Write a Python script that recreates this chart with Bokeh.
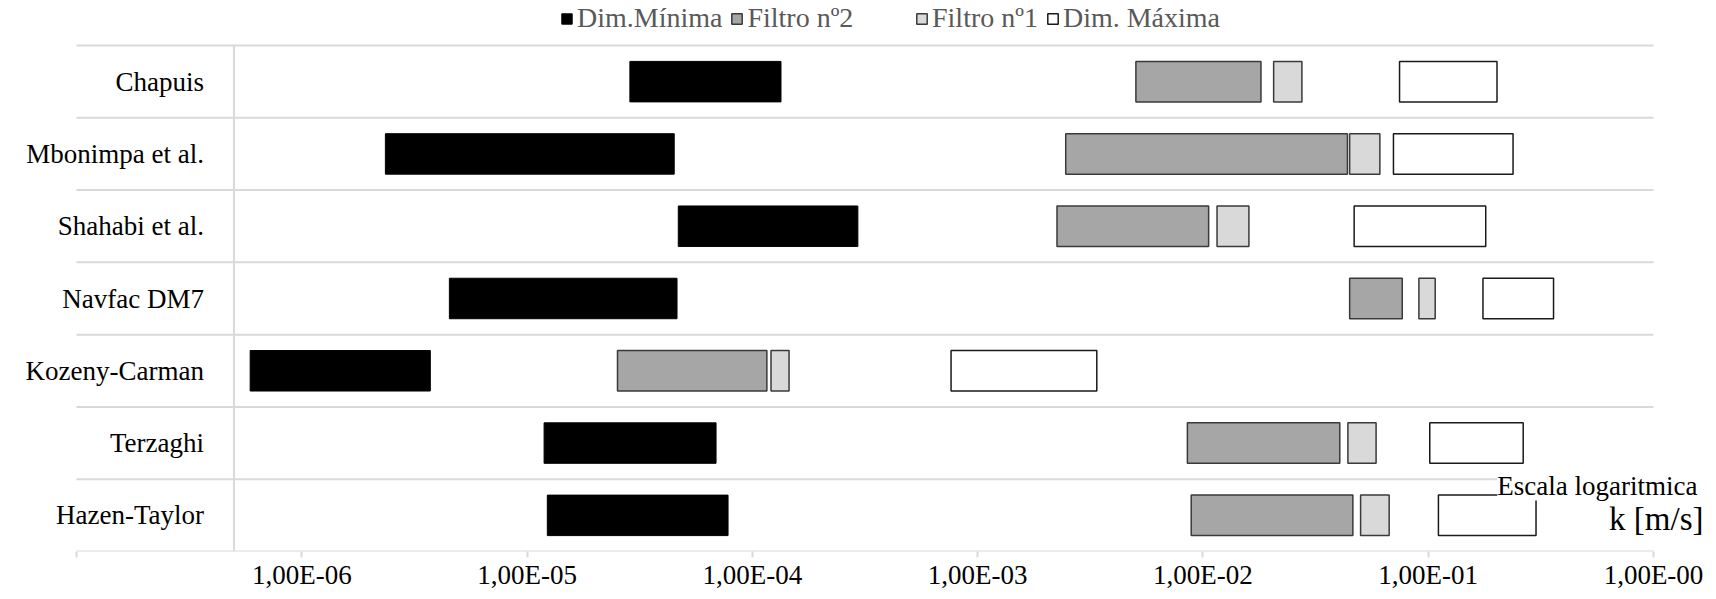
from bokeh.plotting import figure
from bokeh.models import (Range1d, FixedTicker, CustomJSTickFormatter, Legend,
                          LegendItem, LabelSet, Label, ColumnDataSource)
from bokeh.core.properties import value
from bokeh.embed import file_html
from bokeh.resources import INLINE

# ---------------- data ----------------
categories = ["Chapuis", "Mbonimpa et al.", "Shahabi et al.", "Navfac DM7",
              "Kozeny-Carman", "Terzaghi", "Hazen-Taylor"]

dim_min_lo = [2.86e-5, 2.35e-6, 4.69e-5, 4.52e-6, 5.9e-7, 1.19e-5, 1.23e-5]
dim_min_hi = [1.34e-4, 4.50e-5, 2.94e-4, 4.63e-5, 3.72e-6, 6.90e-5, 7.80e-5]
filtro2_lo = [5.04e-3, 2.46e-3, 2.25e-3, 4.48e-2, 2.52e-5, 8.53e-3, 8.87e-3]
filtro2_hi = [1.81e-2, 4.38e-2, 1.06e-2, 7.67e-2, 1.16e-4, 4.05e-2, 4.63e-2]
filtro1_lo = [2.06e-2, 4.48e-2, 1.155e-2, 9.09e-2, 1.21e-4, 4.40e-2, 5.01e-2]
filtro1_hi = [2.75e-2, 6.10e-2, 1.60e-2, 1.074e-1, 1.455e-4, 5.87e-2, 6.71e-2]
dim_max_lo = [7.46e-2, 7.01e-2, 4.69e-2, 1.75e-1, 7.62e-4, 1.016e-1, 1.11e-1]
dim_max_hi = [2.02e-1, 2.38e-1, 1.80e-1, 3.60e-1, 3.38e-3, 2.64e-1, 3.01e-1]

series_names = ["Dim.Mínima", "Filtro nº2", "Filtro nº1", "Dim. Máxima"]

tick_values = [1e-7, 1e-6, 1e-5, 1e-4, 1e-3, 1e-2, 1e-1, 1e0]
tick_labels = ["", "1,00E-06", "1,00E-05", "1,00E-04", "1,00E-03",
               "1,00E-02", "1,00E-01", "1,00E-00"]
axis_min, axis_max = 1e-7, 1.0
axis_cross = 5e-7
axis_title_1 = "Escala logaritmica"
axis_title_2 = "k [m/s]"

# ---------------- layout ----------------
FONT = "Liberation Serif"
GRID = "#d9d9d9"
n = len(categories)
ys = [n - i - 0.5 for i in range(n)]

W, FH = 1716, 551          # frame covers the whole page width; axis below
PLOT_L, PLOT_R = 76, 1653  # pixel span of the log axis (1e-7 .. 1e0)
PLOT_T = 45                # top gridline
decades = 7
dpx = (PLOT_R - PLOT_L) / decades
x_lo = axis_min / 10 ** (PLOT_L / dpx)
x_hi = axis_max * 10 ** ((W - PLOT_R) / dpx)
row_px = (FH - PLOT_T) / n
y_hi = n + PLOT_T / row_px

p = figure(x_axis_type="log", x_range=Range1d(x_lo, x_hi), y_range=Range1d(0, y_hi),
           frame_width=W, frame_height=FH,
           min_border_left=0, min_border_right=0, min_border_top=0, min_border_bottom=0,
           output_backend="svg", toolbar_location=None)
p.outline_line_color = None
p.background_fill_color = "white"
p.border_fill_color = "white"
p.xgrid.visible = False
p.ygrid.visible = False
p.yaxis.visible = False

xa = p.xaxis[0]
xa.ticker = FixedTicker(ticks=tick_values)
xa.formatter = CustomJSTickFormatter(
    args=dict(vals=tick_values, labs=tick_labels),
    code="""
    const i = vals.findIndex(v => Math.abs(Math.log10(v) - Math.log10(tick)) < 1e-6);
    return i >= 0 ? labs[i] : "";
    """)
xa.axis_line_color = None
xa.major_tick_line_color = GRID
xa.major_tick_line_width = 2
xa.major_tick_in = 0
xa.major_tick_out = 6
xa.minor_tick_line_color = None
xa.major_label_text_font = FONT
xa.major_label_text_font_size = "27px"
xa.major_label_text_color = "black"
xa.major_label_standoff = 2

# horizontal gridlines (row boundaries) + axis line, vertical category axis
grid_y = list(range(0, n + 1))
p.segment(x0=[axis_min] * len(grid_y), x1=[axis_max] * len(grid_y), y0=grid_y, y1=grid_y,
          line_color=GRID, line_width=2)
p.segment(x0=[axis_cross], x1=[axis_cross], y0=[0], y1=[n], line_color=GRID, line_width=2)

src = ColumnDataSource(dict(y=ys,
                            dmin_lo=dim_min_lo, dmin_hi=dim_min_hi,
                            f2_lo=filtro2_lo, f2_hi=filtro2_hi,
                            f1_lo=filtro1_lo, f1_hi=filtro1_hi,
                            dmax_lo=dim_max_lo, dmax_hi=dim_max_hi,
                            cat=categories, xl=[axis_min] * n))

H = 0.56
r1 = p.hbar(y="y", left="dmin_lo", right="dmin_hi", height=H, source=src,
            fill_color="black", line_color="black", line_width=1)
r2 = p.hbar(y="y", left="f2_lo", right="f2_hi", height=H, source=src,
            fill_color="#a6a6a6", line_color="#3a3a3a", line_width=1.5)
r3 = p.hbar(y="y", left="f1_lo", right="f1_hi", height=H, source=src,
            fill_color="#d9d9d9", line_color="#3a3a3a", line_width=1.5)
r4 = p.hbar(y="y", left="dmax_lo", right="dmax_hi", height=H, source=src,
            fill_color="white", line_color="#1a1a1a", line_width=1.5)

# category labels
labels = LabelSet(x="xl", y="y", text="cat", source=src, x_offset=127.5,
                  text_align="right", text_baseline="middle",
                  text_font=value(FONT), text_font_size=value("27px"),
                  text_color="black")
p.add_layout(labels)

# axis titles at bottom right
p.add_layout(Label(x=axis_max, y=0, x_offset=44, y_offset=66, text=axis_title_1,
                   text_align="right", text_baseline="alphabetic",
                   text_font=FONT, text_font_size="27px", text_color="black",
                   background_fill_color="white"))
p.add_layout(Label(x=axis_max, y=0, x_offset=50, y_offset=33, text=axis_title_2,
                   text_align="right", text_baseline="alphabetic",
                   text_font=FONT, text_font_size="33px", text_color="black"))

# legend (two groups)
def make_legend(items, loc):
    return Legend(items=items, orientation="horizontal", location=loc,
                  padding=0, margin=0, spacing=8, label_standoff=4,
                  glyph_width=13, glyph_height=13,
                  border_line_alpha=0, background_fill_alpha=0,
                  label_text_font=FONT, label_text_font_size="28px",
                  label_text_color="#595959")

lg1 = make_legend([LegendItem(label=series_names[0], renderers=[r1]),
                   LegendItem(label=series_names[1], renderers=[r2])], (560, FH - 34))
lg2 = make_legend([LegendItem(label=series_names[2], renderers=[r3]),
                   LegendItem(label=series_names[3], renderers=[r4])], (915, FH - 34))
p.add_layout(lg1)
p.add_layout(lg2)

open("out.html", "w").write(file_html(p, INLINE))
